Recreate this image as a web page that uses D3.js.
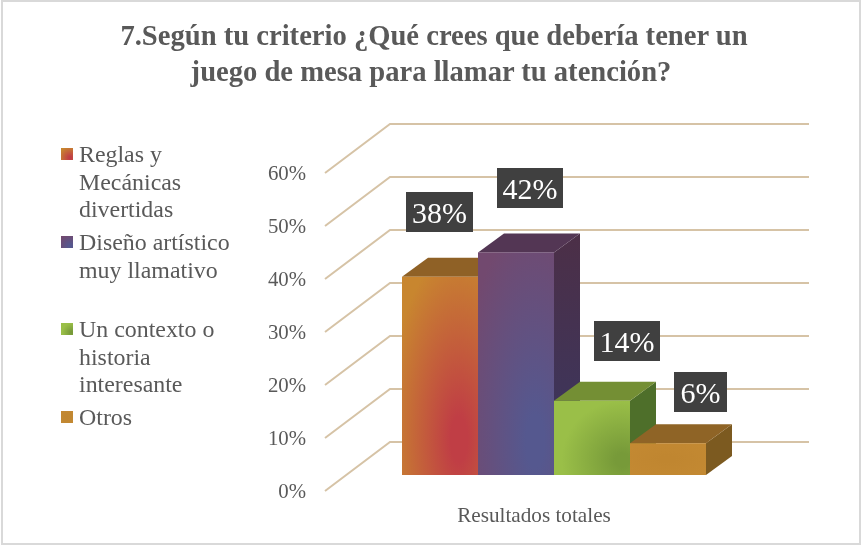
<!DOCTYPE html>
<html><head><meta charset="utf-8">
<script src="https://cdnjs.cloudflare.com/ajax/libs/d3/7.8.5/d3.min.js"></script>
<style>html,body{margin:0;padding:0;background:#fff}svg{display:block;filter:blur(0.4px)}text{font-family:"Liberation Serif",serif}</style>
</head><body><svg id="c" width="863" height="546"></svg>
<script>
const titleLines=["7.Según tu criterio ¿Qué crees que debería tener un","juego de mesa para llamar tu atención?"];
const categories=["Reglas y Mecánicas divertidas","Diseño artístico muy llamativo","Un contexto o historia interesante","Otros"];
const legendLines=[["Reglas y","Mecánicas","divertidas"],["Diseño artístico","muy llamativo"],["Un contexto o","historia","interesante"],["Otros"]];
const values=[37.4,42,14,6];
const labels=["38%","42%","14%","6%"];
const ticks=[0,10,20,30,40,50,60];
const xTitle="Resultados totales";

const svg=d3.select("#c");
svg.append("rect").attr("width",863).attr("height",546).attr("fill","#fff");
svg.append("rect").attr("x",2).attr("y",1).attr("width",858).attr("height",543).attr("fill","none").attr("stroke","#d9d9d9").attr("stroke-width",2);

const defs=svg.append("defs");
function radial(id,c0,c1,cx,cy,r){const g=defs.append("radialGradient").attr("id",id).attr("cx",cx).attr("cy",cy).attr("r",r);
 g.append("stop").attr("offset","12%").attr("stop-color",c0);g.append("stop").attr("offset","100%").attr("stop-color",c1);}
const palette=[
 {a:"#c03e45",b:"#c8862f",top:"#8f6126",side:"#7f5a20",cx:.75,cy:.82,r:.95},
 {a:"#55588f",b:"#72496f",top:"#533654",side:null,cx:.75,cy:.85,r:1.0},
 {a:"#779a39",b:"#9abf48",top:"#748f34",side:"#4e6f2a",cx:.9,cy:.8,r:.8},
 {a:"#c08630",b:"#c48a33",top:"#8f6426",side:"#7c5a20",cx:.5,cy:.5,r:.8}
];
palette.forEach((p,i)=>radial("g"+i,p.a,p.b,p.cx,p.cy,p.r));
const sideG=defs.append("linearGradient").attr("id","side2").attr("x1",0).attr("y1",0).attr("x2",0).attr("y2",1);
sideG.append("stop").attr("offset","0%").attr("stop-color","#4c2f47");
sideG.append("stop").attr("offset","100%").attr("stop-color","#393761");

// scales
const yFront=d3.scaleLinear().domain([0,60]).range([491,173]);
const yBack=d3.scaleLinear().domain([0,60]).range([442,124]);
const yBar=d3.scaleLinear().domain([0,60]).range([475,157]);
const x=d3.scaleBand().domain(categories).range([402,706]).padding(0);
const wallDx=65, backEnd=809, frontLeft=325, dx=26, dy=19;

// gridlines
const grid=svg.append("g").attr("fill","none").attr("stroke","#d6c3a6").attr("stroke-width",2);
grid.selectAll("path").data(ticks).join("path")
 .attr("d",t=>d3.line()([[frontLeft,yFront(t)],[frontLeft+wallDx,yBack(t)],[backEnd,yBack(t)]]));

// axis labels
const axis=svg.append("g").attr("transform","translate(306,0)")
 .call(d3.axisLeft(yFront).tickValues(ticks).tickSize(0).tickPadding(0).tickFormat(d=>d+"%"));
axis.select(".domain").remove();
axis.selectAll("text").attr("font-size",20.8).attr("fill","#595959").style("font-family",'"Liberation Serif",serif');

// bars
const bars=svg.selectAll("g.bar").data(categories).join("g").attr("class","bar");
bars.each(function(c,i){
 const g=d3.select(this), x0=x(c), x1=x0+x.bandwidth(), y0=yBar(0), yt=yBar(values[i]), p=palette[i];
 g.append("path").attr("d",d3.line()([[x1,y0],[x1+dx,y0-dy],[x1+dx,yt-dy],[x1,yt]])+"Z").attr("fill",p.side||"url(#side2)");
 g.append("path").attr("d",d3.line()([[x0,yt],[x0+dx,yt-dy],[x1+dx,yt-dy],[x1,yt]])+"Z").attr("fill",p.top);
 g.append("rect").attr("x",x0).attr("y",yt).attr("width",x.bandwidth()).attr("height",y0-yt).attr("fill",`url(#g${i})`);
});

// data labels
const boxX=[406,497,594,674], boxW=[67,66,66,53], boxY=[192,168,321,372];
const lab=svg.selectAll("g.lab").data(labels).join("g").attr("class","lab");
lab.append("rect").attr("x",(d,i)=>boxX[i]).attr("y",(d,i)=>boxY[i]).attr("width",(d,i)=>boxW[i]).attr("height",40).attr("fill","#404040");
lab.append("text").attr("x",(d,i)=>boxX[i]+boxW[i]/2).attr("y",(d,i)=>boxY[i]+31).attr("text-anchor","middle").attr("font-size",30).attr("fill","#fff").text(d=>d);

// title
svg.selectAll("text.t").data(titleLines).join("text").attr("class","t").attr("x",(d,i)=>i?431:434).attr("y",(d,i)=>45+i*36)
 .attr("text-anchor","middle").attr("font-weight","bold").attr("font-size",28.6).attr("fill","#595959").text(d=>d);

// legend
const legY=[162,250,337,425];
legendLines.forEach((ls,i)=>{
 svg.append("rect").attr("x",61).attr("y",legY[i]-14).attr("width",12).attr("height",12).attr("fill",`url(#g${i})`);
 ls.forEach((l,j)=>svg.append("text").attr("x",79).attr("y",legY[i]+j*27.5).attr("font-size",23.9).attr("fill","#595959").text(l));
});

svg.append("text").attr("x",534).attr("y",522).attr("text-anchor","middle").attr("font-size",21.2).attr("fill","#595959").text(xTitle);
</script></body></html>
